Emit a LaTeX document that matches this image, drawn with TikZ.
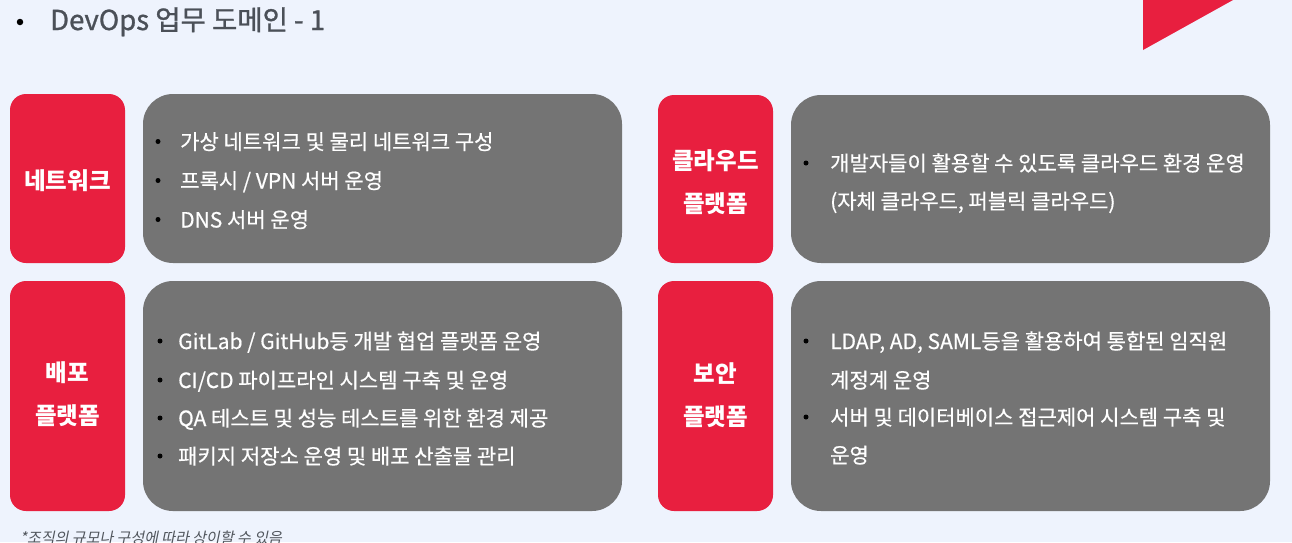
\documentclass[tikz,border=0pt]{standalone}
\usepackage{fontspec}
\setmainfont{Noto Sans CJK KR}
\newfontfamily\krslant[FakeSlant=0.2]{Noto Sans CJK KR}
\newfontfamily\krmed[FakeBold=0.5]{Noto Sans CJK KR}
\newfontfamily\krsemi[FakeBold=1.0]{Noto Sans CJK KR}
\definecolor{bgc}{RGB}{238,243,253}
\definecolor{myred}{RGB}{232,31,63}
\definecolor{mygray}{RGB}{116,116,116}
\definecolor{titlec}{RGB}{75,80,88}
\definecolor{notec}{RGB}{80,85,92}
\begin{document}
\begin{tikzpicture}[x=1pt,y=-1pt,
  redbox/.style={fill=myred, rounded corners=16pt, inner sep=0pt, minimum width=115pt},
  redlabel/.style={text=white, align=center, inner sep=0pt, font=\fontsize{23.5}{43}\selectfont\bfseries},
  graybox/.style={fill=mygray, rounded corners=30pt, inner sep=0pt, minimum width=479pt},
  itemline/.style={anchor=base west, text=white, inner sep=0pt, font=\krmed\fontsize{21}{25}\selectfont},
  itemdot/.style={circle, fill=black, inner sep=0pt, minimum size=5pt},
]
\useasboundingbox (0,0) rectangle (1292,542);
\fill[bgc] (0,0) rectangle (1292,542);
% corner triangle
\fill[myred] (1143,0) -- (1143,50) -- (1233,0) -- cycle;
% title
\node[itemdot, minimum size=6.5pt] (tdot) at (20,22) {};
\node[anchor=base west, inner sep=0pt, text=titlec, font=\krsemi\fontsize{27.5}{30}\selectfont] (title) at (50,30) {DevOps 업무 도메인 - 1};
% boxes
\node[redbox, minimum height=169pt] (rnet) at (67.5,178.5) {};
\node[redlabel] (lnet) at (67.5,181) {네트워크};
\node[graybox, minimum height=169pt] (gnet) at (382.5,178.5) {};

\node[redbox, minimum height=168pt] (rcloud) at (715.5,179) {};
\node[redlabel] (lcloud) at (715.5,182.5) {클라우드\\플랫폼};
\node[graybox, minimum height=168pt] (gcloud) at (1030.5,179) {};

\node[redbox, minimum height=230pt] (rdep) at (67.5,396) {};
\node[redlabel] (ldep) at (67.5,394.5) {배포\\플랫폼};
\node[graybox, minimum height=230pt] (gdep) at (382.5,396) {};

\node[redbox, minimum height=230pt] (rsec) at (715.5,396) {};
\node[redlabel] (lsec) at (715.5,395) {보안\\플랫폼};
\node[graybox, minimum height=230pt] (gsec) at (1030.5,396) {};

% network items
\node[itemdot] (d11) at (158,141.5) {};
\node[itemline] (t11) at (180,149.5) {가상 네트워크 및 물리 네트워크 구성};
\node[itemdot] (d12) at (158,180.5) {};
\node[itemline] (t12) at (180,188.5) {프록시 / VPN 서버 운영};
\node[itemdot] (d13) at (158,219.5) {};
\node[itemline] (t13) at (180,227.5) {DNS 서버 운영};

% cloud items
\node[itemdot] (d21) at (806,163) {};
\node[itemline] (t21) at (830,171) {개발자들이 활용할 수 있도록 클라우드 환경 운영};
\node[itemline] (t22) at (830,209) {(자체 클라우드, 퍼블릭 클라우드)};

% deploy items
\node[itemdot] (d31) at (160,341) {};
\node[itemline] (t31) at (178,349) {GitLab / GitHub등 개발 협업 플랫폼 운영};
\node[itemdot] (d32) at (160,380) {};
\node[itemline] (t32) at (178,388) {CI/CD 파이프라인 시스템 구축 및 운영};
\node[itemdot] (d33) at (160,418) {};
\node[itemline] (t33) at (178,426) {QA 테스트 및 성능 테스트를 위한 환경 제공};
\node[itemdot] (d34) at (160,456) {};
\node[itemline] (t34) at (178,464) {패키지 저장소 운영 및 배포 산출물 관리};

% security items
\node[itemdot] (d41) at (806,341) {};
\node[itemline] (t41) at (830,349) {LDAP, AD, SAML등을 활용하여 통합된 임직원};
\node[itemline] (t42) at (830,388) {계정계 운영};
\node[itemdot] (d43) at (806,417) {};
\node[itemline] (t43) at (830,425) {서버 및 데이터베이스 접근제어 시스템 구축 및};
\node[itemline] (t44) at (830,463) {운영};

% footnote
\node[anchor=base west, inner sep=0pt, text=notec, font=\krslant\fontsize{15}{18}\selectfont] (note) at (20,543.5) {*조직의 규모나 구성에 따라 상이할 수 있음};
\end{tikzpicture}
\end{document}
